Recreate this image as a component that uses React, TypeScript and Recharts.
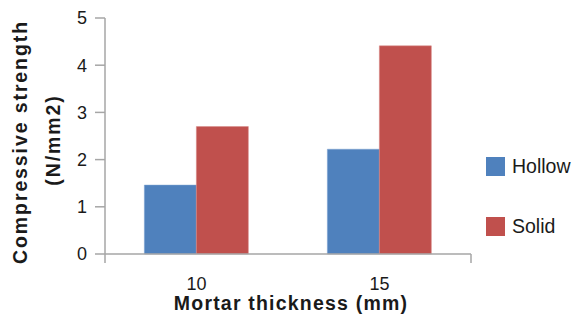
import React from 'react';
import { BarChart, Bar, XAxis, YAxis, Legend } from 'recharts';

const categories = ['10', '15'];
const hollow = [1.46, 2.22];
const solid = [2.7, 4.41];
const yTicks = [0, 1, 2, 3, 4, 5];

const data = categories.map((c, i) => ({ name: c, Hollow: hollow[i], Solid: solid[i] }));

const FONT = '"Liberation Sans", Arial, sans-serif';
const AXIS = '#A6A6A6';
const TEXT = '#1a1a1a';

const YLabel = (props: any) => {
  const vb = props.viewBox || {};
  const cy = vb.y + vb.height / 2 + 6;
  const common = { textAnchor: 'middle' as const, fontFamily: FONT, fontWeight: 'bold', fontSize: 19.5, fill: TEXT };
  return (
    <g>
      <text x={0} y={0} transform={`translate(${27},${cy}) rotate(-90)`} letterSpacing={1.9} {...common}>
        Compressive strength
      </text>
      <text x={0} y={0} transform={`translate(${60},${cy - 2}) rotate(-90)`} letterSpacing={1.9} {...common}>
        (N/mm2)
      </text>
    </g>
  );
};

const XLabel = (props: any) => {
  const vb = props.viewBox || {};
  return (
    <text x={vb.x + vb.width / 2 + 3} y={vb.y + 47} textAnchor="middle" fontFamily={FONT} fontWeight="bold" fontSize={19.5} letterSpacing={1.2} fill={TEXT}>
      Mortar thickness (mm)
    </text>
  );
};

const LegendContent = (props: any) => {
  const items = props.payload || [];
  return (
    <div style={{ fontFamily: FONT, fontSize: 19.5, color: TEXT, lineHeight: '20px' }}>
      {items.map((it: any, i: number) => (
        <div key={i} style={{ display: 'flex', alignItems: 'center', height: 20, marginBottom: i === 0 ? 40 : 0 }}>
          <div style={{ width: 19, height: 19, background: it.color, marginRight: 7 }} />
          <span>{it.value}</span>
        </div>
      ))}
    </div>
  );
};

export default function App() {
  return (
    <div style={{ position: 'absolute', left: 0, top: 0 }}>
      <BarChart width={581} height={322} data={data} margin={{ top: 18, right: 110, left: 0, bottom: 0 }} barCategoryGap="21.5%" barGap={0}>
        <XAxis xAxisId="a_num" type="number" domain={[0, 2]} ticks={[0, 1, 2]} allowDataOverflow height={9} tickSize={9} tickFormatter={() => ''} stroke={AXIS} strokeWidth={1.5} tickLine={{ stroke: AXIS, strokeWidth: 1.5 }} />
        <XAxis xAxisId="b_cat" dataKey="name" type="category" axisLine={false} tickLine={false} height={59} tickSize={6} tickMargin={8}
          tick={{ fontFamily: FONT, fontSize: 18, fill: TEXT }}
          label={<XLabel />} />
        <YAxis domain={[0, 5]} ticks={yTicks} width={105} tickSize={10} tickMargin={8} stroke={AXIS} strokeWidth={1.5}
          tick={{ fontFamily: FONT, fontSize: 18, fill: TEXT }} label={<YLabel />} />
        <Legend layout="horizontal" verticalAlign="middle" align="center" wrapperStyle={{ left: 486, top: 156, width: 95 }} content={<LegendContent />} />
        <Bar xAxisId="b_cat" dataKey="Hollow" fill="#4F81BD" stroke="#7FA3D0" strokeWidth={0.5} isAnimationActive={false} />
        <Bar xAxisId="b_cat" dataKey="Solid" fill="#C0504D" stroke="#D88A88" strokeWidth={0.5} isAnimationActive={false} />
      </BarChart>
    </div>
  );
}
